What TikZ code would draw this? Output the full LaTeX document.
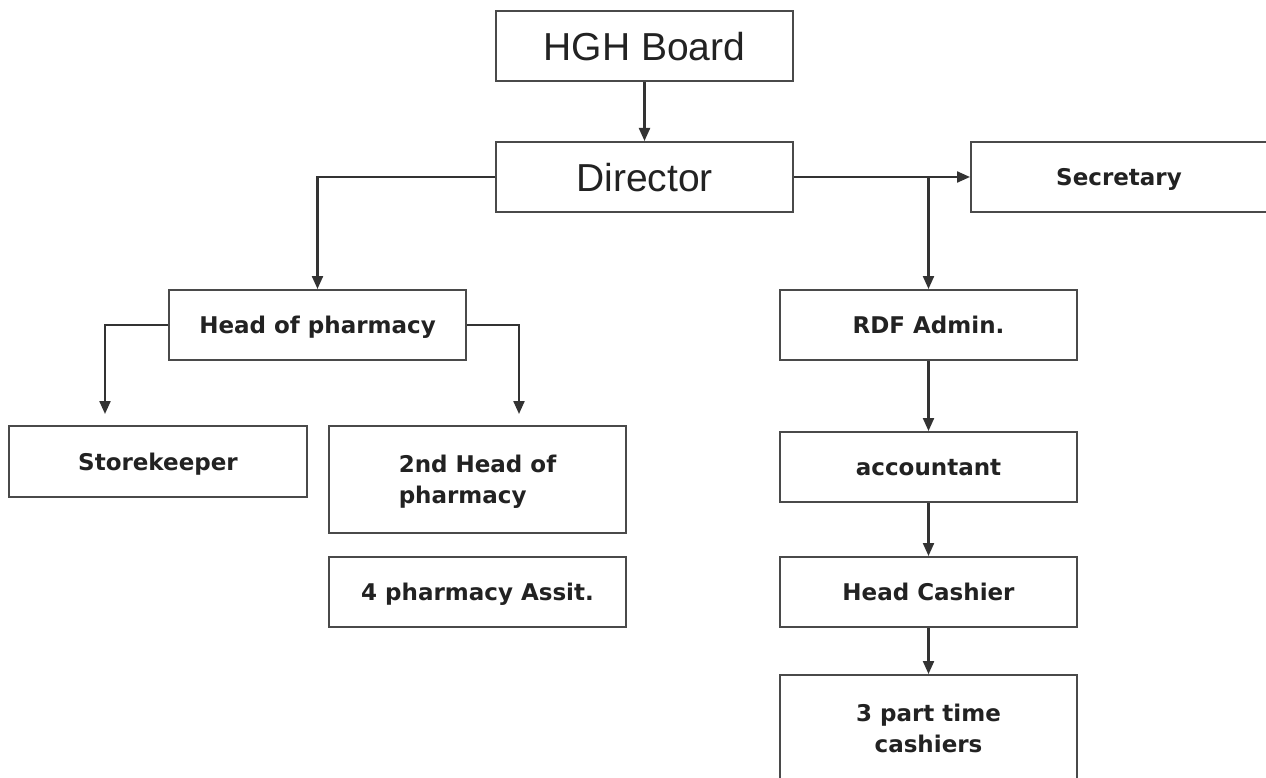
\documentclass[tikz,border=0pt]{standalone}
\usepackage{fontspec}
\setmainfont{Liberation Sans}
\newfontfamily\lblfont{DejaVu Sans}
\usetikzlibrary{arrows.meta}
\definecolor{boxc}{HTML}{4A4A4A}
\definecolor{linec}{HTML}{333333}
\definecolor{txtc}{HTML}{222222}
\tikzset{
  box/.style={draw=boxc, line width=2pt, minimum width=297pt, minimum height=70pt,
    inner sep=0pt, text=txtc, text depth=0pt, font=\lblfont\bfseries\fontsize{23}{31}\selectfont},
  bigbox/.style={box, font=\fontsize{39}{45}\selectfont},
  arr/.style={draw=linec, line width=2.2pt, -{Triangle[length=13pt,width=11pt]}},
}
\begin{document}
\begin{tikzpicture}[x=1pt,y=-1pt]
\useasboundingbox (0,0) rectangle (1266,778);
\clip (0,0) rectangle (1266,778);
\fill[white] (0,0) rectangle (1266,778);
\node[bigbox] (board) at (644.5,46) {HGH Board};
\node[bigbox] (dir) at (644.5,177) {Director};
\node[box, minimum width=296pt] (sec) at (1119,177) {Secretary};
\node[box] (hop) at (317.5,325) {Head of pharmacy};
\node[box, minimum width=298pt, minimum height=71pt] (store) at (158,461.5) {Storekeeper};
\node[box, minimum height=107pt, align=left] (h2) at (477.5,479.5) {2nd Head of\\pharmacy};
\node[box] (assit) at (477.5,592) {4 pharmacy Assit.};
\node[box] (rdf) at (928.5,325) {RDF Admin.};
\node[box] (acct) at (928.5,467) {accountant};
\node[box] (hc) at (928.5,592) {Head Cashier};
\node[box, minimum height=106pt, align=center] (c3) at (928.5,728) {3 part time\\cashiers};
\coordinate (sk) at (105,414);
\coordinate (h2k) at (519,414);
\draw[arr] (board.south) -- (dir.north);
\draw[arr] (dir.east) -- (sec.west);
\draw[arr] (dir.east -| rdf.north) -- (rdf.north);
\draw[arr] (dir.west) -| (hop.north);
\draw[arr] (hop.west) -| (sk);
\draw[arr] (hop.east) -| (h2k);
\draw[arr] (rdf.south) -- (acct.north);
\draw[arr] (acct.south) -- (hc.north);
\draw[arr] (hc.south) -- (c3.north);
\end{tikzpicture}
\end{document}
